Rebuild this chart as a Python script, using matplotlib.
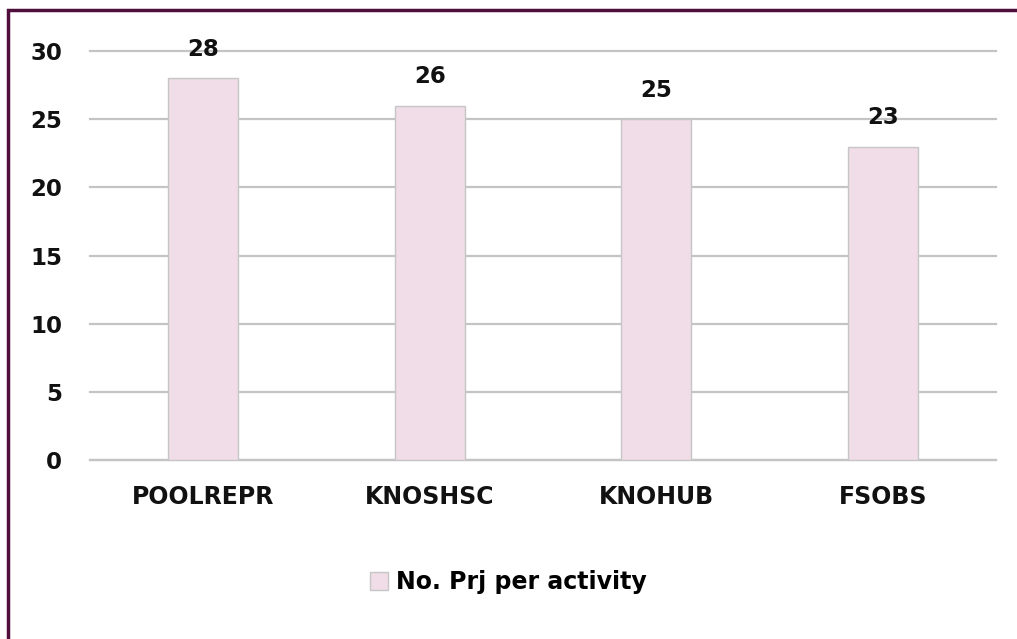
import matplotlib.pyplot as plt
from matplotlib.patches import Rectangle

categories = ['POOLREPR', 'KNOSHSC', 'KNOHUB', 'FSOBS']
projects = [28, 26, 25, 23]
yticks = [0, 5, 10, 15, 20, 25, 30]

plt.rcParams['font.family'] = ['DejaVu Sans']

fig = plt.figure(figsize=(10.17, 6.39), dpi=100)
ax = fig.add_axes([0.0885, 0.28, 0.891, 0.64])

x = range(len(categories))
bars = ax.bar(x, projects, width=0.31, color='#f0dde7', edgecolor='#c6c6c6',
              linewidth=1, zorder=3, label='No. Prj per activity')

for i, v in zip(x, projects):
    ax.text(i, v + 1.3, str(v), ha='center', va='bottom', fontsize=16.5,
            fontweight='bold', color='#111111')

ax.set_xlim(-0.5, len(categories) - 0.5)
ax.set_ylim(0, 30)
ax.set_yticks(yticks)
ax.set_yticklabels([str(t) for t in yticks], fontsize=16.5, fontweight='bold')
ax.set_xticks(list(x))
ax.set_xticklabels(categories, fontsize=17, fontweight='bold')
ax.grid(axis='y', color='#c4c4c4', linewidth=1.6, zorder=0)
for gl in ax.get_ygridlines():
    gl.set_clip_on(False)
ax.tick_params(axis='both', length=0, colors='#111111')
ax.tick_params(axis='y', pad=20)
ax.tick_params(axis='x', pad=18)
for s in ['top', 'right', 'left']:
    ax.spines[s].set_visible(False)
ax.spines['bottom'].set_color('#c4c4c4')
ax.spines['bottom'].set_linewidth(1.6)

ax.legend(loc='center', bbox_to_anchor=(0.5, 0.089), bbox_transform=fig.transFigure,
          frameon=False, prop={'size': 17, 'weight': 'bold'},
          handlelength=0.75, handleheight=0.75, handletextpad=0.35)

# outer frame
fig.patches.append(Rectangle((8 / 1017, -0.1), 1.2, 1 - 10 / 639 + 0.1,
                             transform=fig.transFigure, fill=False,
                             edgecolor='#4e0d3a', linewidth=2.5))

fig.savefig('out.png', dpi=100)
